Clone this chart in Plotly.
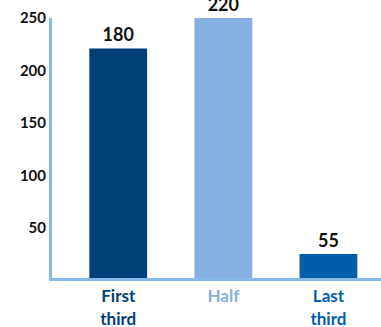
import plotly.graph_objects as go

# values
categories = ["First third", "Half", "Last third"]
tick_text = ["First<br>third", "Half", "Last<br>third"]
bar_heights = [221, 250, 25]
bar_labels = ["180", "220", "55"]
y_ticks = [50, 100, 150, 200, 250]

colors = ["#003f78", "#86b0e0", "#005eaa"]
axis_color = "#86b9e8"

fig = go.Figure(
    go.Bar(
        x=categories,
        y=bar_heights,
        marker=dict(color=colors, line=dict(width=0)),
        text=bar_labels,
        textposition="outside",
        textfont=dict(size=18, color="#111111", family="Lato", weight="bold"),
        cliponaxis=False,
    )
)

colored_ticks = [
    f"<span style='color:{c}'>{t}</span>" for c, t in zip(colors, tick_text)
]

fig.update_layout(
    width=381,
    height=327,
    margin=dict(l=52, r=0, t=18, b=49),
    plot_bgcolor="white",
    paper_bgcolor="white",
    bargap=0.45,
    showlegend=False,
    font=dict(family="Lato"),
)
fig.update_xaxes(
    range=[-0.63, 2.5],
    tickvals=categories,
    ticktext=colored_ticks,
    tickfont=dict(size=17, family="Lato", weight="bold"),
    showline=True,
    linecolor=axis_color,
    linewidth=3,
    showgrid=False,
    ticks="",
    ticklabelstandoff=1,
    automargin=False,
)
fig.update_yaxes(
    range=[2, 250],
    tickvals=y_ticks,
    tickfont=dict(size=15, color="#111111", family="Lato", weight="bold"),
    showline=True,
    linecolor=axis_color,
    linewidth=3,
    showgrid=False,
    zeroline=False,
    ticks="",
    ticklabelstandoff=0,
    automargin=False,
)

# the page body has an 8px default margin; drop it so the figure sits at 0,0
fig.write_html(
    "out.html",
    config={"displayModeBar": False},
    post_script="document.body.style.margin='0';",
)
